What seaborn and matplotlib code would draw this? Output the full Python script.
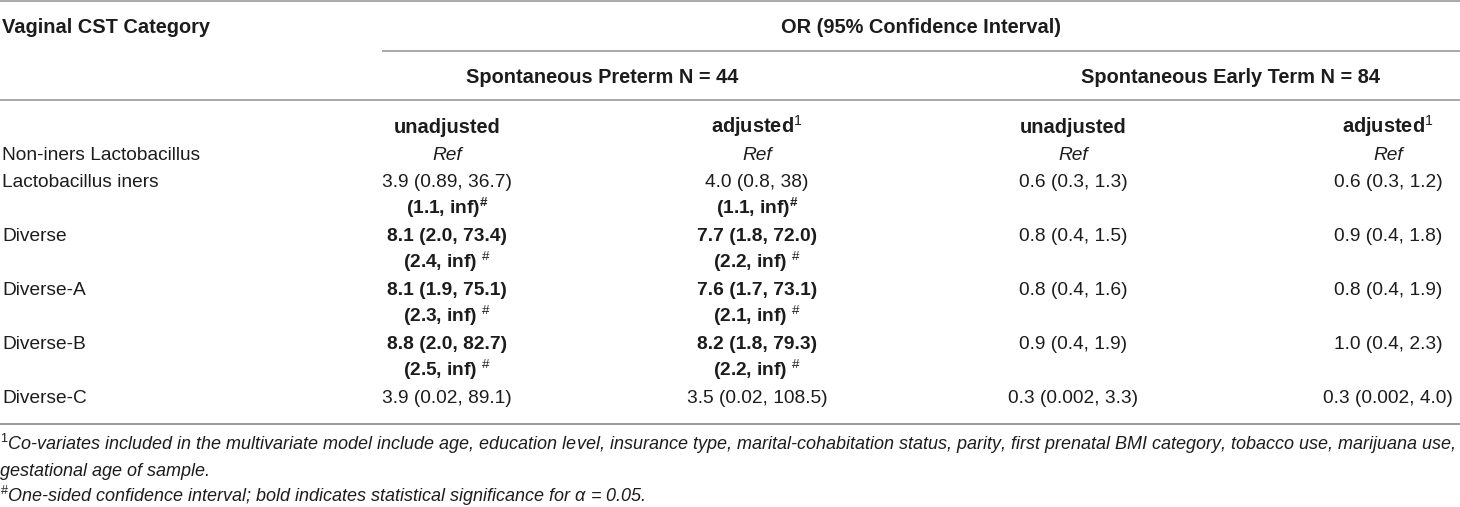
import matplotlib
matplotlib.use("Agg")
import matplotlib.pyplot as plt
import seaborn as sns

# table content
header_left = "Vaginal CST Category"
header_span = "OR (95% Confidence Interval)"
groups = ["Spontaneous Preterm N = 44", "Spontaneous Early Term N = 84"]
col_labels = ["unadjusted", "adjusted", "unadjusted", "adjusted"]
col_footmark = [False, True, False, True]

cst = ["Non-iners Lactobacillus", "Lactobacillus iners", "Diverse",
       "Diverse-A", "Diverse-B", "Diverse-C"]
pt_unadj = ["Ref", "3.9 (0.89, 36.7)", "8.1 (2.0, 73.4)", "8.1 (1.9, 75.1)",
            "8.8 (2.0, 82.7)", "3.9 (0.02, 89.1)"]
pt_adj = ["Ref", "4.0 (0.8, 38)", "7.7 (1.8, 72.0)", "7.6 (1.7, 73.1)",
          "8.2 (1.8, 79.3)", "3.5 (0.02, 108.5)"]
et_unadj = ["Ref", "0.6 (0.3, 1.3)", "0.8 (0.4, 1.5)", "0.8 (0.4, 1.6)",
            "0.9 (0.4, 1.9)", "0.3 (0.002, 3.3)"]
et_adj = ["Ref", "0.6 (0.3, 1.2)", "0.9 (0.4, 1.8)", "0.8 (0.4, 1.9)",
          "1.0 (0.4, 2.3)", "0.3 (0.002, 4.0)"]
# one-sided intervals (shown on a second line under the estimate)
pt_unadj_one = [None, "(1.1, inf)", "(2.4, inf)", "(2.3, inf)", "(2.5, inf)", None]
pt_adj_one = [None, "(1.1, inf)", "(2.2, inf)", "(2.1, inf)", "(2.2, inf)", None]
pt_signif = [False, False, True, True, True, False]

footnote1 = ("Co-variates included in the multivariate model include age, education level, "
             "insurance type, marital-cohabitation status, parity, first prenatal BMI category, "
             "tobacco use, marijuana use,")
footnote1b = "gestational age of sample."
footnote2 = "One-sided confidence interval; bold indicates statistical significance for α = 0.05."

sns.set_theme(style="white")
plt.rcParams['font.family'] = ['Liberation Sans', 'DejaVu Sans']
plt.rcParams['mathtext.fontset'] = 'custom'
plt.rcParams['mathtext.rm'] = 'Liberation Sans'
plt.rcParams['mathtext.it'] = 'Liberation Sans:italic'
plt.rcParams['mathtext.bf'] = 'Liberation Sans:bold'

FS = 13.8
FS_HEAD = 14.4
FS_NOTE = 13.0
TXT = "#1c1c1c"
RULE = "#9a9a9a"

fig = plt.figure(figsize=(14.6, 5.07), dpi=100)
ax = fig.add_axes([0, 0, 1, 1])
ax.set_xlim(0, 1460)
ax.set_ylim(507, 0)
ax.axis("off")

col_x = [447, 757, 1073, 1388]
W = 1460


def put(x, y, s, ha="center", **kw):
    kw.setdefault("color", TXT)
    kw.setdefault("fontsize", FS)
    ax.text(x, y + 6, s, ha=ha, va="baseline", **kw)


# rules
ax.hlines(1, 0, W, color=RULE, lw=1.2)
ax.hlines(51, 382, W, color=RULE, lw=1.2)
ax.hlines(100, 0, W, color=RULE, lw=1.2)
ax.hlines(424, 0, W, color=RULE, lw=1.4)

# headers
put(2, 27, header_left, ha="left", fontweight="bold", fontsize=FS_HEAD)
put((382 + W) / 2, 27, header_span, fontweight="bold", fontsize=FS_HEAD)
put((col_x[0] + col_x[1]) / 2, 77, groups[0], fontweight="bold", fontsize=FS_HEAD)
put((col_x[2] + col_x[3]) / 2, 77, groups[1], fontweight="bold", fontsize=FS_HEAD)
for x, lab, mark in zip(col_x, col_labels, col_footmark):
    s = lab + (r"$^{\mathit{1}}$" if mark else "")
    put(x, 127, s, fontweight="bold", fontsize=FS_HEAD)

# body
y0, step = 154, 27
row = 0
for i, name in enumerate(cst):
    y = y0 + row * step
    put(2, y, name, ha="left")
    w = "bold" if pt_signif[i] else "normal"
    for x, vals in zip(col_x, [pt_unadj, pt_adj, et_unadj, et_adj]):
        v = vals[i]
        if v == "Ref":
            put(x, y, v, fontstyle="italic")
        else:
            put(x, y, v, fontweight=w if vals in (pt_unadj, pt_adj) else "normal")
    row += 1
    if pt_unadj_one[i] is not None:
        y = y0 + row * step
        for x, vals in zip(col_x[:2], [pt_unadj_one, pt_adj_one]):
            if i == 1:
                s = vals[i] + r"$^{\mathbf{\#}}$"
            else:
                s = vals[i] + r" $^{\mathrm{\#}}$"
            put(x, y, s, fontweight="bold")
        row += 1

# footnotes
put(0, 444, r"$^{\mathit{1}}$" + footnote1, ha="left", fontstyle="italic", fontsize=FS_NOTE)
put(0, 470, footnote1b, ha="left", fontstyle="italic", fontsize=FS_NOTE)
put(0, 496, r"$^{\mathrm{\#}}$" + footnote2, ha="left", fontstyle="italic", fontsize=FS_NOTE)

fig.savefig("out.png", dpi=100)
